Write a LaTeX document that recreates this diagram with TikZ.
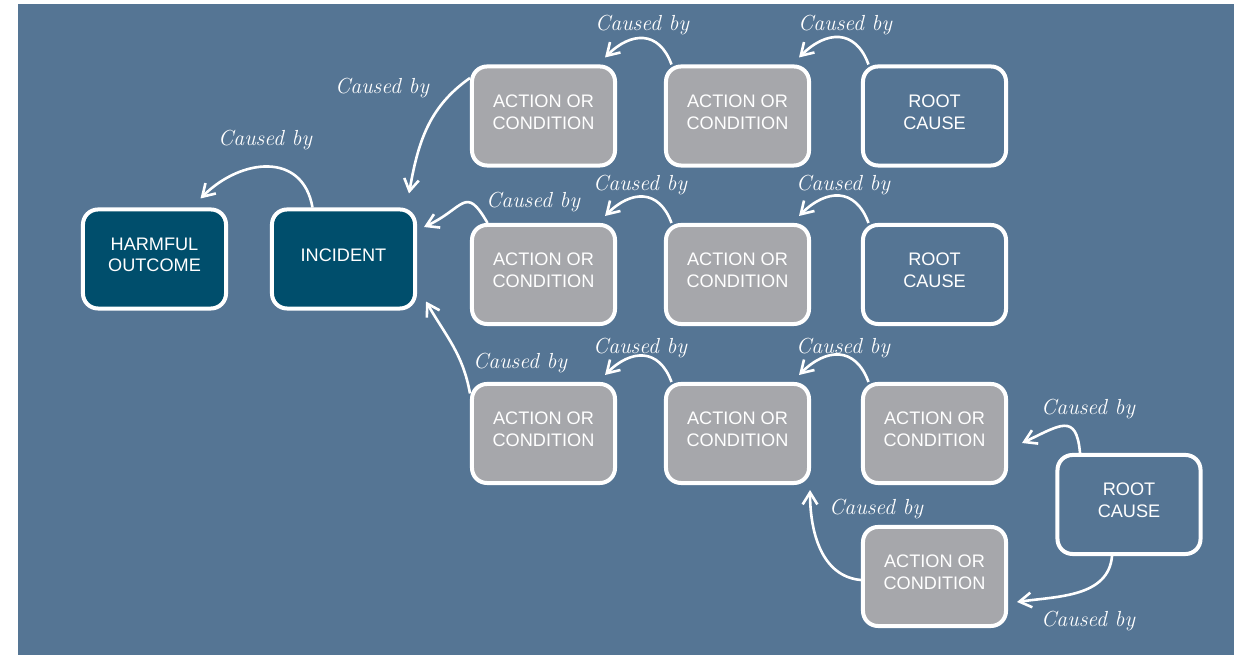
\documentclass[tikz,border=0pt]{standalone}
\usepackage{fontspec}
\setsansfont{Liberation Sans}
\usetikzlibrary{arrows.meta,calc,positioning}
\definecolor{panel}{HTML}{557594}
\definecolor{deep}{HTML}{004E6C}
\definecolor{stone}{HTML}{A6A7AB}

\begin{document}
\begin{tikzpicture}[
  x=0.025cm, y=0.025cm,
  blk/.style={draw=white, line width=0.1cm, rounded corners=0.375cm,
              minimum width=3.575cm, minimum height=2.475cm, inner sep=0pt,
              align=center, text=white,
              font=\sffamily\fontsize{12.9}{15.6}\selectfont,
              execute at end node={\rule[-6pt]{0pt}{0pt}}},
  outc/.style={blk, fill=deep},
  cond/.style={blk, fill=stone},
  rootc/.style={blk, fill=panel},
  lbl/.style={text=white, inner sep=0pt,
              font=\itshape\fontsize{15.5}{18}\selectfont},
  arr/.style={draw=white, line width=0.065cm,
              -{Straight Barb[length=8.5pt,width=10.5pt]}},
]
\useasboundingbox (0,0) rectangle (1234,655);
\fill[panel] (18,0) rectangle (1234,651);

% ---- outcome side ----
\node[outc] (harm) at (154.5,396) {HARMFUL\\OUTCOME};
\node[outc] (inc)  at (343.5,396) {INCIDENT};

% ---- upper chain ----
\node[cond]  (a1)  at (543.5,539) {ACTION OR\\CONDITION};
\node[cond]  (a2)  at (737.5,539) {ACTION OR\\CONDITION};
\node[rootc] (rc1) at (934.5,539) {ROOT\\CAUSE};

% ---- middle chain ----
\node[cond]  (b1)  at (543.5,380.5) {ACTION OR\\CONDITION};
\node[cond]  (b2)  at (737.5,380.5) {ACTION OR\\CONDITION};
\node[rootc] (rc2) at (934.5,380.5) {ROOT\\CAUSE};

% ---- lower chain ----
\node[cond]  (c1)  at (543.5,221.5) {ACTION OR\\CONDITION};
\node[cond]  (c2)  at (737.5,221.5) {ACTION OR\\CONDITION};
\node[cond]  (c3)  at (934.5,221.5) {ACTION OR\\CONDITION};
\node[rootc] (rc3) at (1129,150.5)  {ROOT\\CAUSE};
\node[cond]  (d3)  at (934.5,78.5)  {ACTION OR\\CONDITION};

% ---- links into incident / outcome ----
\draw[arr] ($(inc.north)+(-31,0)$) to[out=100,in=45,looseness=1.3] ($(harm.north)+(46,9)$);
\draw[arr] ($(a1.west)+(0,38)$) to[out=215,in=80] ($(inc.north east)+(-8,14)$);
\draw[arr] ($(b1.north)+(-56,0)$) to[out=120,in=25,looseness=1.8] ($(inc.east)+(7,32)$);
\draw[arr] ($(c1.west)+(0,40)$) to[out=100,in=-60] ($(inc.south east)+(9,9)$);

% ---- links along the chains ----
\foreach \s/\t in {a2/a1, rc1/a2, b2/b1, rc2/b2, c2/c1, c3/c2}
  \draw[arr] ($(\s.north)+(-66,0)$) to[out=110,in=45,looseness=1.4] ($(\t.north east)+(-12,7)$);
\draw[arr] ($(rc3.north)+(-49,0)$) to[out=95,in=25,looseness=1.8] ($(c3.east)+(14,-9.5)$);
\draw[arr] ($(rc3.south)+(-17,0)$) to[out=265,in=8] ($(d3.east)+(9,-25.5)$);
\draw[arr] ($(d3.west)+(0,-3.5)$) to[out=175,in=-90] ($(c2.south east)+(-1,-5)$);

% ---- labels ----
\node[lbl] (cb1)  at (265,515)  {Caused by};
\node[lbl] (cb2)  at (382,567)  {Caused by};
\node[lbl] (cb3)  at (642,630)  {Caused by};
\node[lbl] (cb4)  at (845,630)  {Caused by};
\node[lbl] (cb5)  at (533,453)  {Caused by};
\node[lbl] (cb6)  at (640,470)  {Caused by};
\node[lbl] (cb7)  at (843,470)  {Caused by};
\node[lbl] (cb8)  at (520,292)  {Caused by};
\node[lbl] (cb9)  at (640,307)  {Caused by};
\node[lbl] (cb10) at (843,307)  {Caused by};
\node[lbl] (cb11) at (1088,246) {Caused by};
\node[lbl] (cb12) at (1088,34)  {Caused by};
\node[lbl] (cb13) at (876,146)  {Caused by};
\end{tikzpicture}
\end{document}
